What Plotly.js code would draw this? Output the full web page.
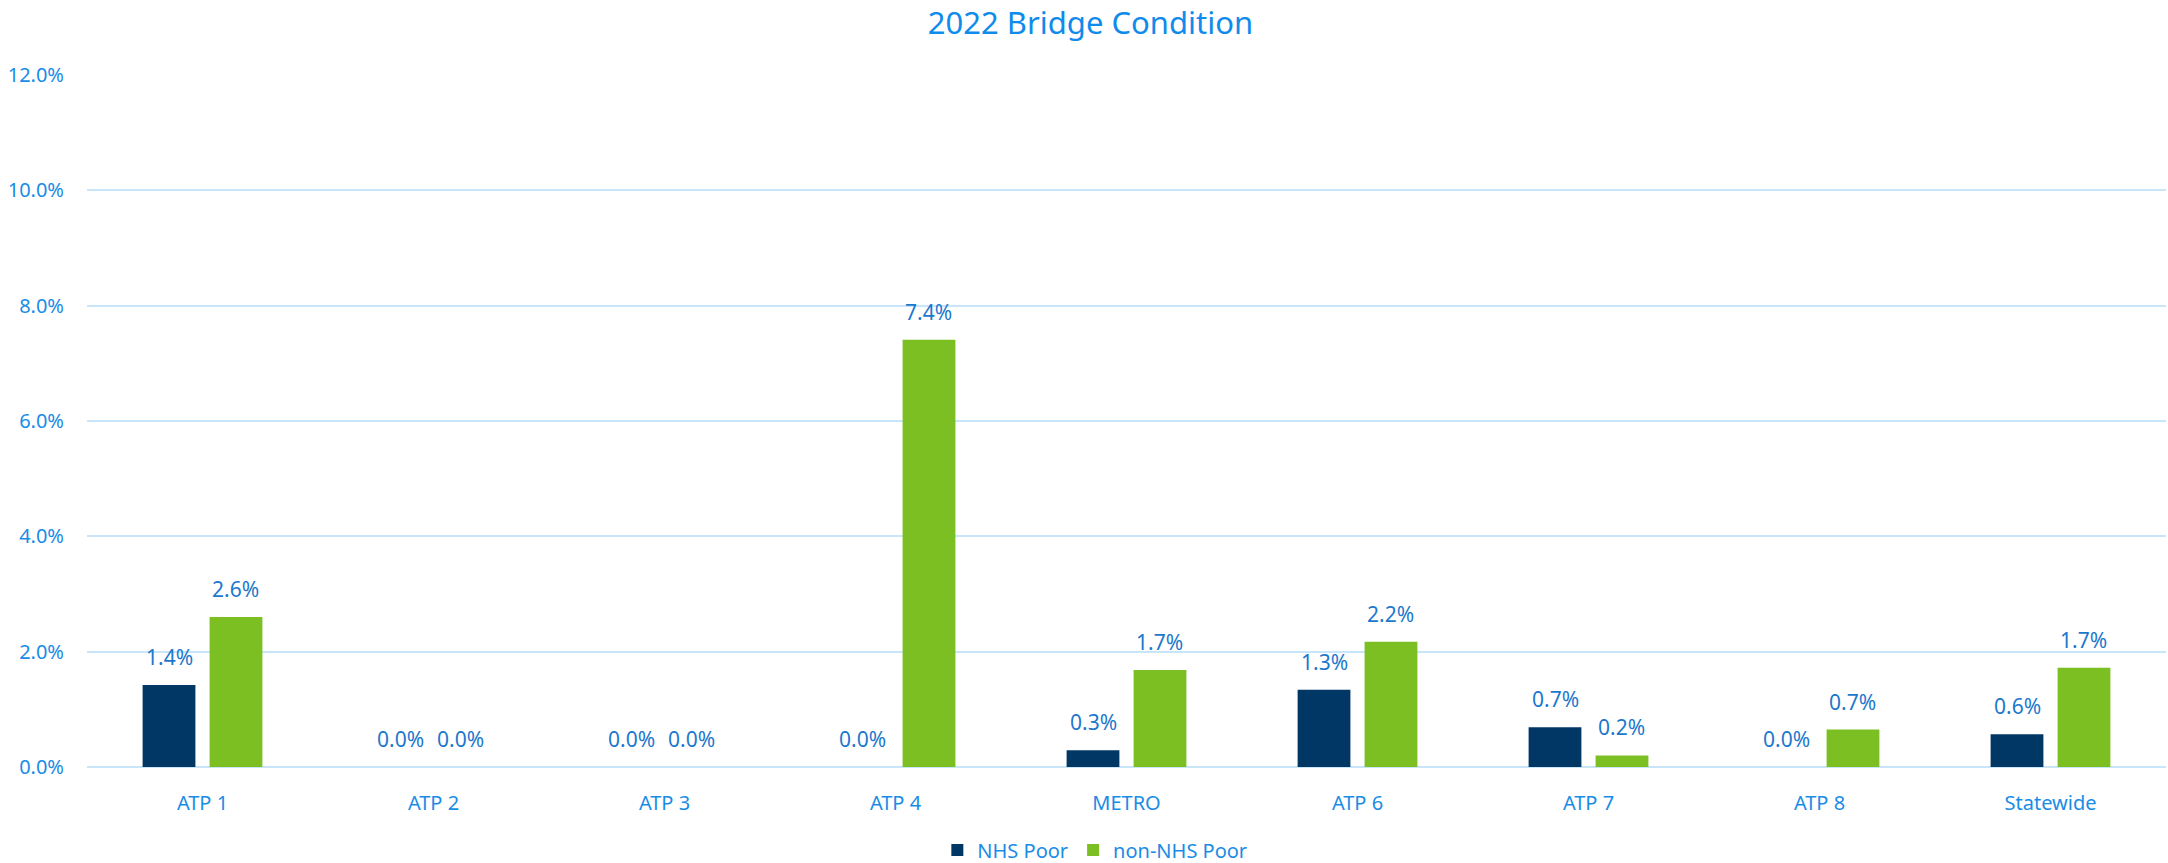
<!DOCTYPE html>
<html>
<head>
<meta charset="utf-8">
<script src="https://cdn.plot.ly/plotly-3.0.1.min.js"></script>
<style>html,body{margin:0;padding:0;background:#fff;}#chart{width:2168px;height:863px;}</style>
</head>
<body>
<div id="chart"></div>
<script>
const categories = ["ATP 1", "ATP 2", "ATP 3", "ATP 4", "METRO", "ATP 6", "ATP 7", "ATP 8", "Statewide"];
const nhsPoor = [1.42, 0.0, 0.0, 0.0, 0.29, 1.34, 0.69, 0.0, 0.57];
const nonNhsPoor = [2.6, 0.0, 0.0, 7.41, 1.68, 2.17, 0.2, 0.65, 1.72];
const yTicks = [0, 2, 4, 6, 8, 10, 12];
const seriesNames = ["NHS Poor", "non-NHS Poor"];

const fontFam = "Noto Sans, Open Sans, sans-serif";
const navy = "#003764";
const green = "#7BBF23";
const tickBlue = "#1A8CE6";
const labelBlue = "#1C78CC";

const traces = [
  {type: "bar", name: seriesNames[0], x: categories, y: nhsPoor, marker: {color: navy}, hoverinfo: "none"},
  {type: "bar", name: seriesNames[1], x: categories, y: nonNhsPoor, marker: {color: green}, hoverinfo: "none"}
];

const annotations = [];
[nhsPoor, nonNhsPoor].forEach((vals, si) => {
  vals.forEach((v, i) => {
    annotations.push({
      x: categories[i], y: v, xref: "x", yref: "y",
      text: v.toFixed(1) + "%",
      showarrow: false, yanchor: "bottom", xanchor: "center",
      xshift: v === 0 ? (si === 0 ? -33 : 27) : (si === 0 ? -33 : 33), yshift: 12,
      font: {family: fontFam, size: 21, color: labelBlue}
    });
  });
});

const layout = {
  width: 2168, height: 863,
  paper_bgcolor: "#fff", plot_bgcolor: "#fff",
  margin: {l: 87, r: 2, t: 75, b: 96},
  title: {text: "2022 Bridge Condition", x: 0.503, xanchor: "center", xref: "container",
          y: 0.9733, yanchor: "middle", yref: "container",
          font: {family: fontFam, size: 31, color: "#0F8BEB"}},
  barmode: "group", bargap: 0.42, bargroupgap: 0.212,
  xaxis: {type: "category", showgrid: false, zeroline: false, showline: false, automargin: false,
          tickfont: {family: fontFam, size: 20, color: tickBlue}, ticks: "", ticklabelstandoff: 22},
  yaxis: {range: [0, 12], tickvals: yTicks, ticktext: yTicks.map(t => t.toFixed(1) + "%"), automargin: false,
          showgrid: true, gridcolor: "#C9E5FA", gridwidth: 2, zeroline: true, zerolinecolor: "#C9E5FA", zerolinewidth: 2,
          showline: false, ticks: "", ticklabelstandoff: 22,
          tickfont: {family: fontFam, size: 20, color: tickBlue}},
  showlegend: true,
  legend: {orientation: "h", x: 0.505, xanchor: "center", xref: "container", y: 0.015, yanchor: "middle", yref: "container",
           font: {family: fontFam, size: 20, color: tickBlue}, itemwidth: 30, tracegroupgap: 0},
  annotations: annotations
};

Plotly.newPlot("chart", traces, layout, {displayModeBar: false, staticPlot: true});
</script>
</body>
</html>
